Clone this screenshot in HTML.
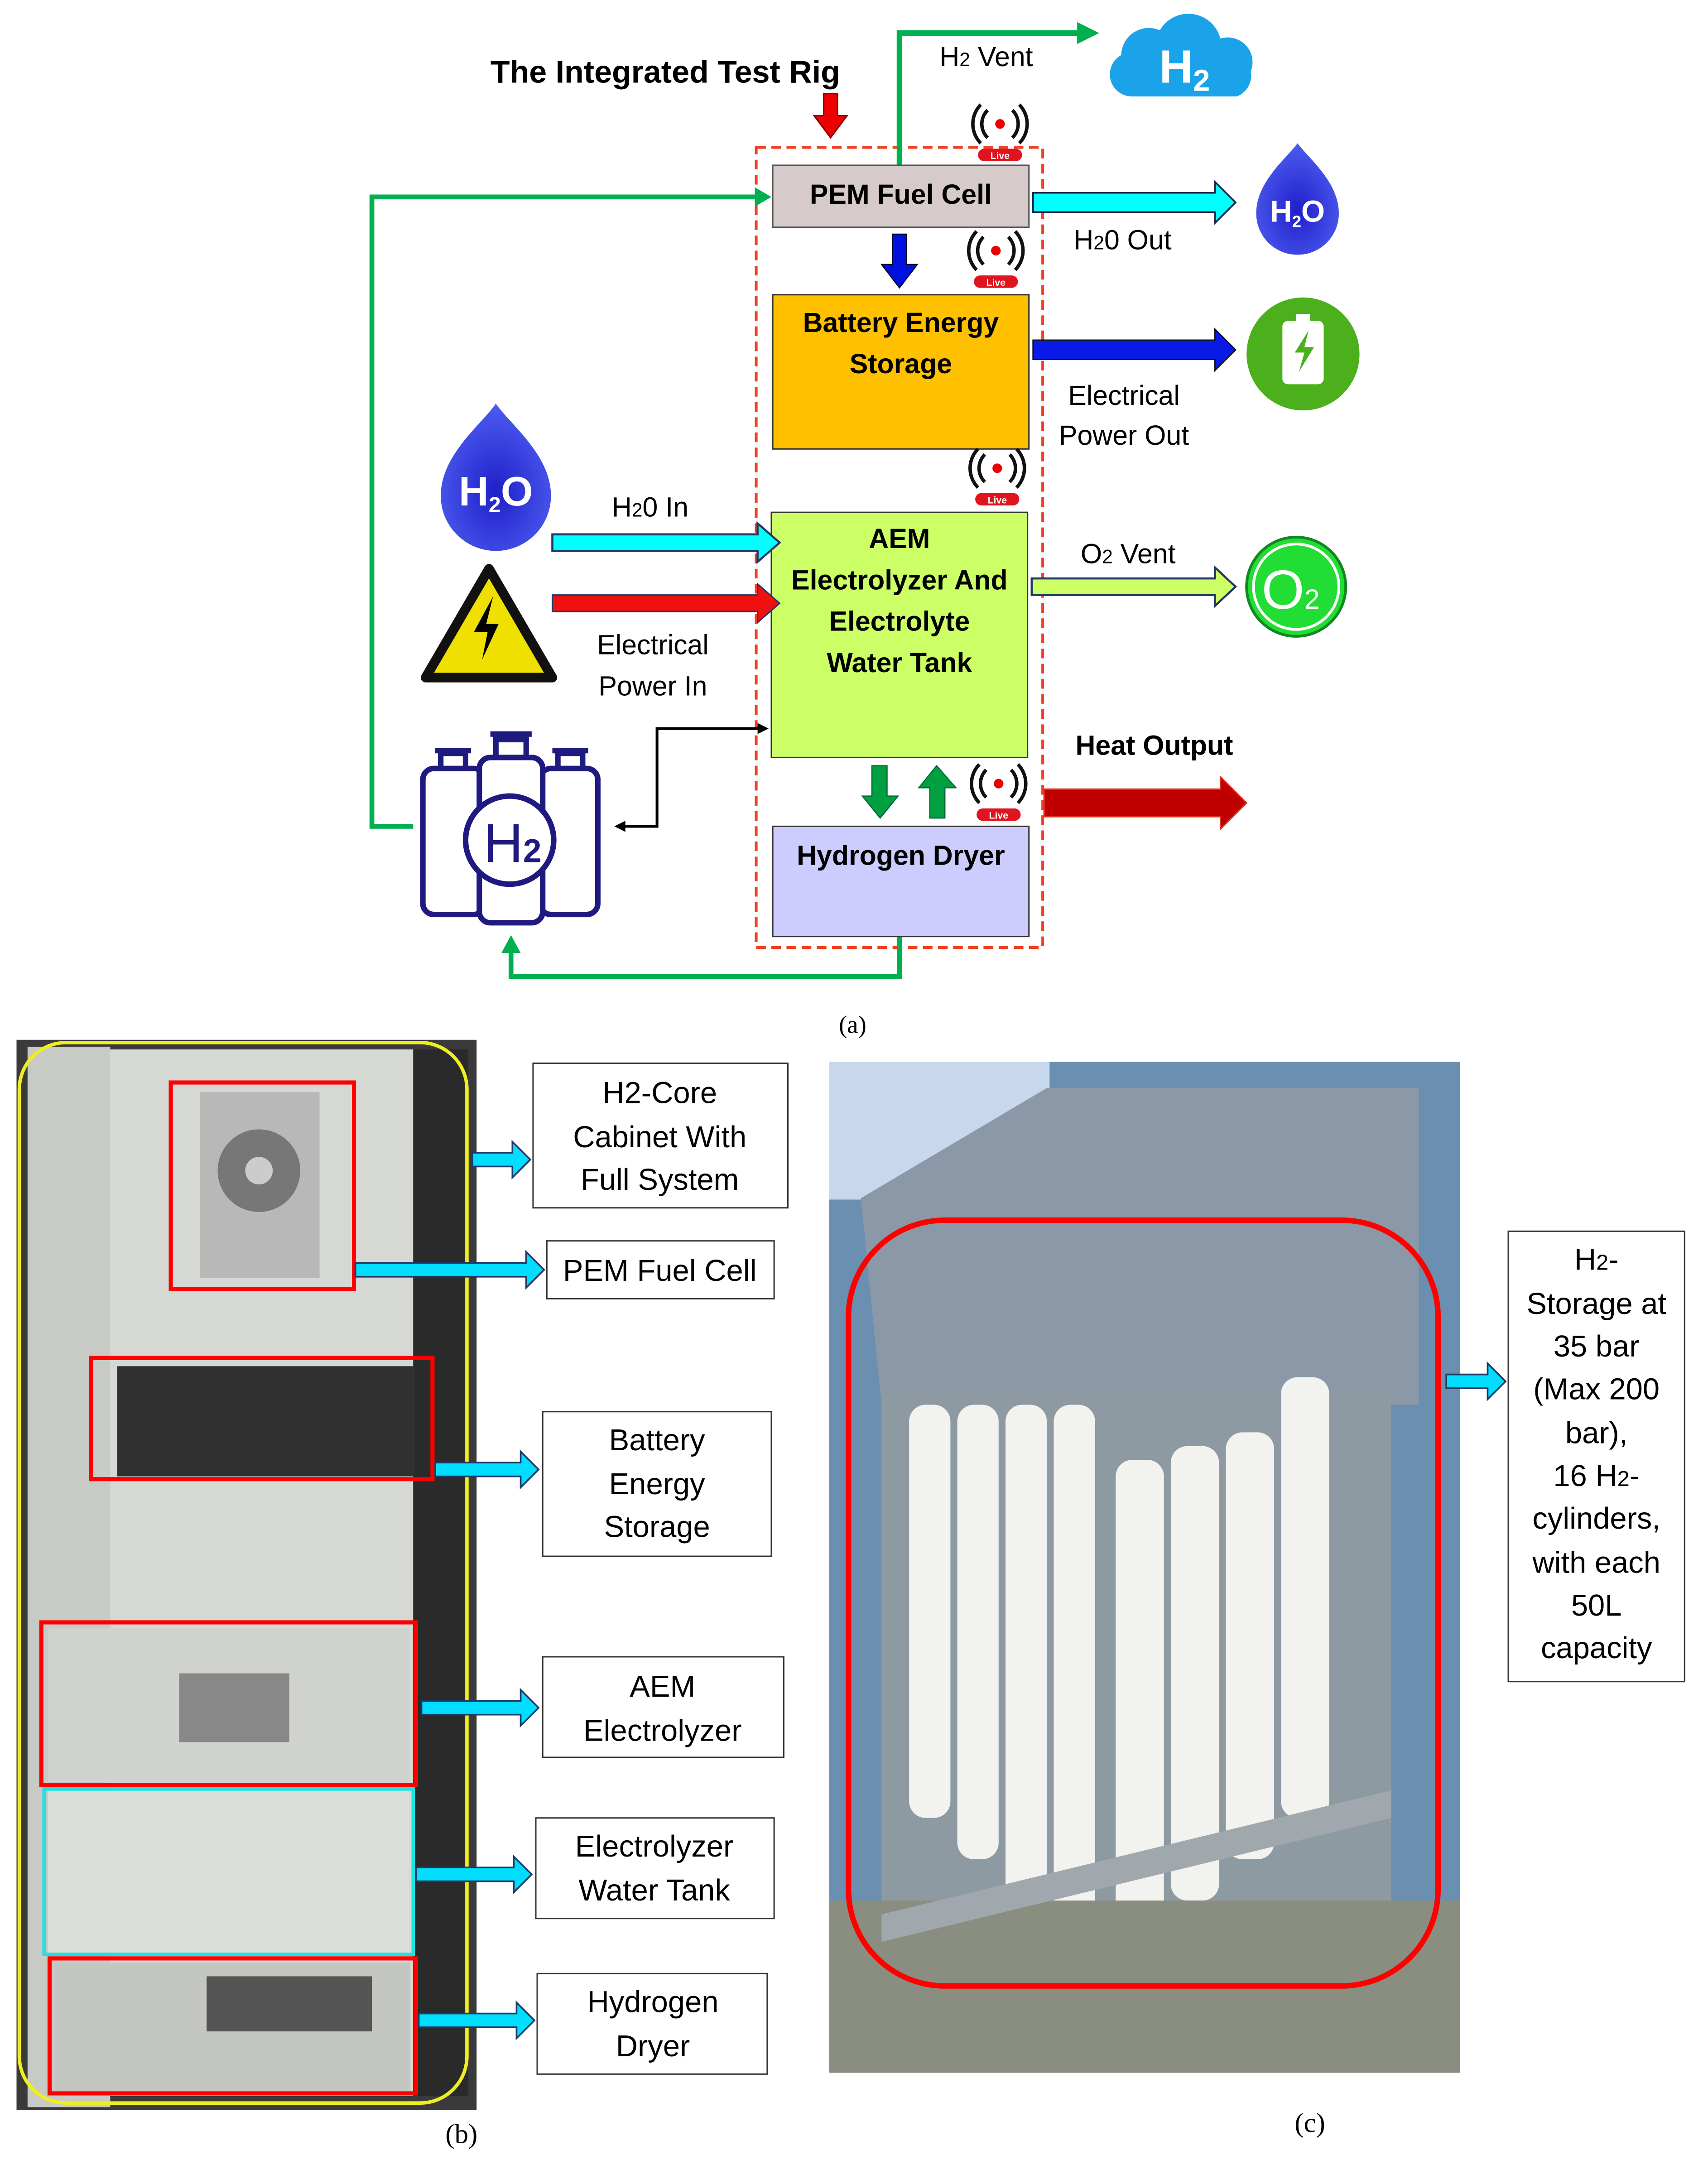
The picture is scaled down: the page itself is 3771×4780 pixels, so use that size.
<!DOCTYPE html>
<html><head><meta charset="utf-8"><style>html,body{margin:0;padding:0;background:#fff}svg{display:block}</style></head><body>
<svg width="3771" height="4780" viewBox="0 0 1240 1572" preserveAspectRatio="none" xmlns="http://www.w3.org/2000/svg" font-family="'Liberation Sans',sans-serif">
<defs>
<g id="live"><path d="M-9,-12 a14,14 0 0 0 0,20" fill="none" stroke="#111" stroke-width="2.5"/><path d="M-14,-16 a20,20 0 0 0 0,28" fill="none" stroke="#111" stroke-width="2.5"/><path d="M9,-12 a14,14 0 0 1 0,20" fill="none" stroke="#111" stroke-width="2.5"/><path d="M14,-16 a20,20 0 0 1 0,28" fill="none" stroke="#111" stroke-width="2.5"/><circle cx="0" cy="-2" r="3.5" fill="#e00"/><rect x="-16" y="16" width="32" height="9" rx="4.5" fill="#e0141e"/><text x="0" y="23.5" font-size="7" font-weight="bold" fill="#fff" text-anchor="middle">Live</text></g>
<radialGradient id="dg" cx="0.5" cy="0.6" r="0.6"><stop offset="0" stop-color="#2020c8"/><stop offset="1" stop-color="#4c5cf0"/></radialGradient>
</defs>
<!-- title -->
<text x="483" y="60" font-size="23" font-weight="bold" text-anchor="middle">The Integrated Test Rig</text>
<path d="M598,68 h10 v16 h7 l-12,16 l-12,-16 h7z" fill="#e00" stroke="#800" stroke-width="1"/>
<!-- dashed rect -->
<rect x="549" y="107" width="208" height="581" fill="none" stroke="#f04020" stroke-width="2" stroke-dasharray="7,4"/>
<!-- green lines -->
<path d="M653,120 V24 H785" fill="none" stroke="#00b050" stroke-width="4"/>
<path d="M782,16 l16,8 l-16,8z" fill="#00b050"/>
<text x="716" y="48" font-size="20" text-anchor="middle">H<tspan font-size="14">2</tspan> Vent</text>
<path d="M300,600 H270 V143 H550" fill="none" stroke="#00b050" stroke-width="3.5"/>
<path d="M548,136 l12,7 l-12,7z" fill="#00b050"/>
<path d="M653,680 V709 H371 V690" fill="none" stroke="#00b050" stroke-width="3.5"/>
<path d="M364,692 l7,-13 l7,13z" fill="#00b050"/>
<!-- cloud -->
<path d="M822,70 a16,16 0 0 1 -8,-30 a20,20 0 0 1 28,-18 a24,24 0 0 1 44,6 a18,18 0 0 1 22,24 a16,16 0 0 1 -10,18z" fill="#1aa3e8"/>
<text x="860" y="60" font-size="34" font-weight="bold" fill="#fff" text-anchor="middle">H<tspan font-size="22" dy="6">2</tspan></text>
<!-- boxes -->
<rect x="561" y="120" width="186" height="45" fill="#d6caca" stroke="#555" stroke-width="1"/>
<text x="654" y="148" font-size="20" font-weight="bold" text-anchor="middle">PEM Fuel Cell</text>
<rect x="561" y="214" width="186" height="112" fill="#ffc000" stroke="#333" stroke-width="1"/>
<text x="654" y="241" font-size="20" font-weight="bold" text-anchor="middle">Battery  Energy</text>
<text x="654" y="271" font-size="20" font-weight="bold" text-anchor="middle">Storage</text>
<rect x="560" y="372" width="186" height="178" fill="#ccff66" stroke="#333" stroke-width="1"/>
<text x="653" y="398" font-size="20" font-weight="bold" text-anchor="middle">AEM</text>
<text x="653" y="428" font-size="20" font-weight="bold" text-anchor="middle">Electrolyzer And</text>
<text x="653" y="458" font-size="20" font-weight="bold" text-anchor="middle">Electrolyte</text>
<text x="653" y="488" font-size="20" font-weight="bold" text-anchor="middle">Water Tank</text>
<rect x="561" y="600" width="186" height="80" fill="#ccccff" stroke="#333" stroke-width="1"/>
<text x="654" y="628" font-size="20" font-weight="bold" text-anchor="middle">Hydrogen Dryer</text>
<!-- live icons -->
<use href="#live" x="726" y="92"/><use href="#live" x="723" y="184"/><use href="#live" x="724" y="342"/><use href="#live" x="725" y="571"/>
<!-- arrows -->
<path d="M648,170 h10 v22 h8 l-13,17 l-13,-17 h8z" fill="#0010e0" stroke="#002" stroke-width="0.8"/>
<path d="M750,140 H882 V132 L897,147 L882,162 V154 H750z" fill="#00ffff" stroke="#224" stroke-width="1.2"/>
<text x="815" y="181" font-size="20" text-anchor="middle">H<tspan font-size="14">2</tspan>0 Out</text>
<path d="M750,247 H882 V239 L897,254 L882,269 V261 H750z" fill="#0a1ae6" stroke="#112" stroke-width="1"/>
<text x="816" y="294" font-size="20" text-anchor="middle">Electrical</text>
<text x="816" y="323" font-size="20" text-anchor="middle">Power Out</text>
<path d="M749,420 H882 V412 L897,426 L882,440 V432 H749z" fill="#ccff66" stroke="#1f3864" stroke-width="1.5"/>
<text x="819" y="409" font-size="20" text-anchor="middle">O<tspan font-size="14">2</tspan> Vent</text>
<path d="M401,388 H550 V380 L566,394 L550,408 V400 H401z" fill="#00ffff" stroke="#1f3864" stroke-width="1.5"/>
<path d="M401,432 H550 V424 L566,438 L550,452 V444 H401z" fill="#f01010" stroke="#1f3864" stroke-width="1"/>
<text x="472" y="375" font-size="20" text-anchor="middle">H<tspan font-size="14">2</tspan>0 In</text>
<text x="474" y="475" font-size="20" text-anchor="middle">Electrical</text>
<text x="474" y="505" font-size="20" text-anchor="middle">Power In</text>
<path d="M758,573 H886 V564 L905,583 L886,602 V593 H758z" fill="#c00000" stroke="#e03020" stroke-width="1"/>
<text x="838" y="548" font-size="20" font-weight="bold" text-anchor="middle">Heat Output</text>
<path d="M633,556 h11 v22 h8 l-13,16 l-13,-16 h7z" fill="#00a040" stroke="#063" stroke-width="0.8"/>
<path d="M675,594 h11 v-22 h8 l-14,-16 l-13,16 h8z" fill="#00a040" stroke="#063" stroke-width="0.8"/>
<path d="M448,600 H477 V529 H552" fill="none" stroke="#000" stroke-width="2"/>
<path d="M446,600 l8,-4 v8z M558,529 l-8,-4 v8z" fill="#000"/>
<!-- icons -->
<path d="M942,104 C950,115 972,132 972,155 A30,30 0 0 1 912,155 C912,132 934,115 942,104z" fill="url(#dg)"/>
<text x="942" y="161" font-size="22" font-weight="bold" fill="#fff" text-anchor="middle">H<tspan font-size="12" dy="4">2</tspan><tspan dy="-4">O</tspan></text>
<path d="M360,293 C370,308 400,330 400,360 A40,40 0 0 1 320,360 C320,330 350,308 360,293z" fill="url(#dg)"/>
<text x="360" y="367" font-size="30" font-weight="bold" fill="#fff" text-anchor="middle">H<tspan font-size="16" dy="5">2</tspan><tspan dy="-5">O</tspan></text>
<circle cx="946" cy="257" r="41" fill="#4caf1c"/>
<rect x="931" y="233" width="30" height="46" rx="4" fill="#fff"/><rect x="941" y="228" width="10" height="6" fill="#fff"/>
<path d="M950,240 l-10,16 h7 l-4,14 l11,-18 h-7z" fill="#4caf1c"/>
<circle cx="941" cy="426" r="36" fill="#22dd33" stroke="#118822" stroke-width="2"/><circle cx="941" cy="426" r="31" fill="none" stroke="#fff" stroke-width="2"/>
<text x="937" y="442" font-size="40" fill="#fff" text-anchor="middle">O<tspan font-size="20">2</tspan></text>
<path d="M355,413 L401,492 H309z" fill="#f0e000" stroke="#111" stroke-width="7" stroke-linejoin="round"/>
<path d="M358,433 l-14,26 h10 l-4,20 l12,-26 h-9z" fill="#000"/>
<g fill="none" stroke="#1f1a80" stroke-width="4">
<rect x="307" y="558" width="45" height="106" rx="8"/><rect x="392" y="558" width="42" height="106" rx="8"/>
<rect x="348" y="550" width="46" height="120" rx="8" fill="#fff"/>
<path d="M320,557 v-10 h18 v10 M316,545 h26 M405,557 v-10 h18 v10 M401,545 h26 M360,549 v-12 h22 v12 M356,533 h30"/>
<circle cx="370" cy="610" r="32" fill="#fff"/>
</g>
<text x="372" y="626" font-size="40" fill="#1f1a80" text-anchor="middle">H<tspan font-size="24" font-weight="bold">2</tspan></text>
<text x="619" y="750" font-size="18" font-family="'Liberation Serif',serif" text-anchor="middle">(a)</text>
<!-- photo b -->
<rect x="12" y="755" width="334" height="777" fill="#3a3a3a"/>
<rect x="78" y="762" width="222" height="760" fill="#d6d8d4"/>
<rect x="20" y="760" width="60" height="770" fill="#c8cac6"/>
<rect x="300" y="762" width="40" height="760" fill="#2a2a2a"/>
<rect x="145" y="793" width="87" height="135" fill="#b8b8b8"/><circle cx="188" cy="850" r="30" fill="#777"/><circle cx="188" cy="850" r="10" fill="#ccc"/>
<rect x="85" y="992" width="215" height="80" fill="#303030"/>
<rect x="35" y="1182" width="262" height="112" fill="#d0d2ce"/><rect x="130" y="1215" width="80" height="50" fill="#888"/>
<rect x="35" y="1300" width="262" height="118" fill="#dcdedb"/>
<rect x="40" y="1425" width="258" height="95" fill="#c4c6c2"/><rect x="150" y="1435" width="120" height="40" fill="#555"/>
<rect x="14" y="757" width="325" height="770" rx="34" fill="none" stroke="#f0ee20" stroke-width="2.5"/>
<g fill="none" stroke="#f00" stroke-width="3"><rect x="124" y="786" width="133" height="150"/><rect x="66" y="986" width="248" height="88"/><rect x="30" y="1178" width="272" height="118"/><rect x="36" y="1422" width="266" height="98"/></g>
<rect x="32" y="1299" width="268" height="120" fill="none" stroke="#20e0e0" stroke-width="2.5"/>
<!-- photo c -->
<rect x="602" y="771" width="458" height="734" fill="#6a8fb0"/>
<rect x="602" y="771" width="160" height="100" fill="#c8d8ec"/>
<path d="M625,870 L760,790 L1030,790 L1030,1020 L640,1020z" fill="#8a98a8"/>
<rect x="640" y="1010" width="370" height="410" fill="#8e9aa2"/>
<g fill="#f2f2ee"><rect x="660" y="1020" width="30" height="300" rx="12"/><rect x="695" y="1020" width="30" height="330" rx="12"/><rect x="730" y="1020" width="30" height="360" rx="12"/><rect x="765" y="1020" width="30" height="390" rx="12"/><rect x="810" y="1060" width="35" height="350" rx="12"/><rect x="850" y="1050" width="35" height="330" rx="12"/><rect x="890" y="1040" width="35" height="310" rx="12"/><rect x="930" y="1000" width="35" height="320" rx="12"/></g>
<rect x="602" y="1380" width="458" height="125" fill="#8a8e80"/>
<path d="M640,1390 L1010,1300 L1010,1320 L640,1410z" fill="#a0a8ae"/>
<rect x="616" y="886" width="428" height="556" rx="70" fill="none" stroke="#f00" stroke-width="4"/>
<text x="951" y="1548" font-size="20" font-family="'Liberation Serif',serif" text-anchor="middle">(c)</text>
<text x="335" y="1556" font-size="20" font-family="'Liberation Serif',serif" text-anchor="middle">(b)</text>
<!-- labels b -->
<g fill="#fff" stroke="#333" stroke-width="1">
<rect x="387" y="772" width="185" height="105"/><rect x="397" y="901" width="165" height="42"/><rect x="394" y="1025" width="166" height="105"/><rect x="394" y="1203" width="175" height="73"/><rect x="389" y="1320" width="173" height="73"/><rect x="390" y="1433" width="167" height="73"/>
<rect x="1095" y="894" width="128" height="327"/>
</g>
<g font-size="22" text-anchor="middle">
<text x="479" y="801">H2-Core</text><text x="479" y="833">Cabinet With</text><text x="479" y="864">Full System</text>
<text x="479" y="930">PEM Fuel Cell</text>
<text x="477" y="1053">Battery</text><text x="477" y="1085">Energy</text><text x="477" y="1116">Storage</text>
<text x="481" y="1232">AEM</text><text x="481" y="1264">Electrolyzer</text>
<text x="475" y="1348">Electrolyzer</text><text x="475" y="1380">Water Tank</text>
<text x="474" y="1461">Hydrogen</text><text x="474" y="1493">Dryer</text>
<text x="1159" y="922">H<tspan font-size="16">2</tspan>-</text><text x="1159" y="954">Storage at</text><text x="1159" y="985">35 bar</text><text x="1159" y="1016">(Max 200</text><text x="1159" y="1048">bar),</text><text x="1159" y="1079">16 H<tspan font-size="16">2</tspan>-</text><text x="1159" y="1110">cylinders,</text><text x="1159" y="1142">with each</text><text x="1159" y="1173">50L</text><text x="1159" y="1204">capacity</text>
</g>
<g fill="#00ddff" stroke="#1f3864" stroke-width="1.2">
<path d="M343,837 H372 V829 L385,842 L372,855 V847 H343z"/>
<path d="M258,917 H382 V909 L395,922 L382,935 V927 H258z"/>
<path d="M316,1062 H378 V1054 L391,1067 L378,1080 V1072 H316z"/>
<path d="M306,1235 H378 V1227 L391,1240 L378,1253 V1245 H306z"/>
<path d="M302,1356 H373 V1348 L386,1361 L373,1374 V1366 H302z"/>
<path d="M304,1462 H375 V1454 L388,1467 L375,1480 V1472 H304z"/>
<path d="M1050,998 H1080 V990 L1093,1003 L1080,1016 V1008 H1050z"/>
</g>
</svg>
</body></html>
